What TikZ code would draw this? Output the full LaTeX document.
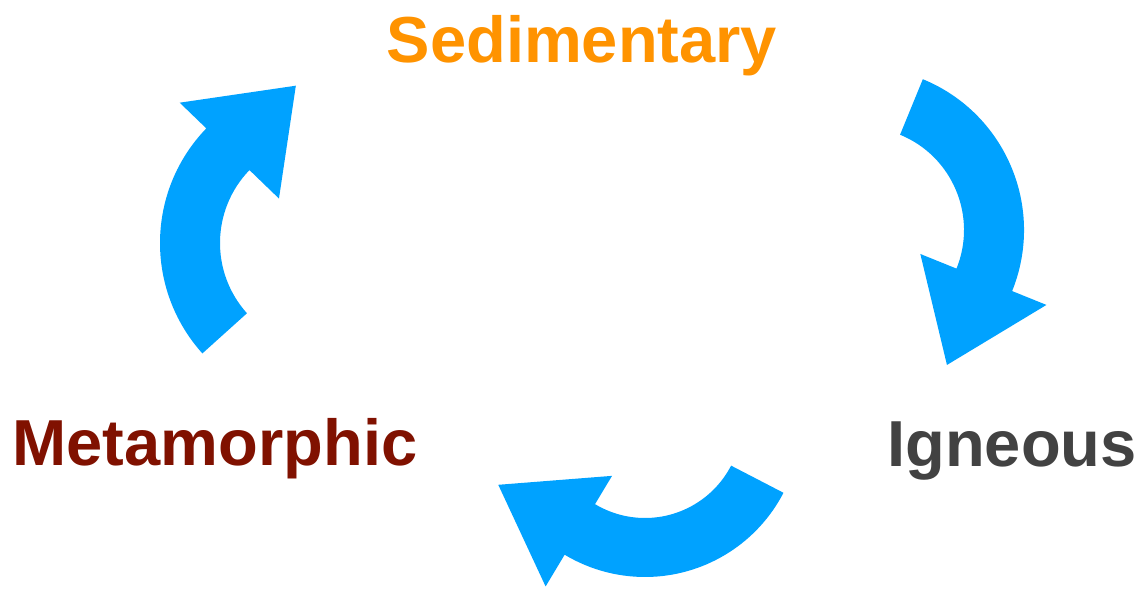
\documentclass[tikz,border=0pt]{standalone}
\usepackage{fontspec}
\setmainfont{Liberation Sans}
\usepackage{xcolor}
\usepackage{tikz}
\usetikzlibrary{calc}
\definecolor{CicloAzul}  {RGB}{0,  162, 255}
\definecolor{Naranja}    {RGB}{255,147,  0}
\definecolor{Granate}    {RGB}{128, 17,  0}
\definecolor{GrisOscuro} {RGB}{66,  66, 66}

\begin{document}
\begin{tikzpicture}[
      roca/.style  ={font=\fontsize{18.5}{20}\selectfont\bfseries,anchor=base,inner sep=0pt},
      flecha/.style={fill=CicloAzul}]
      \fill[white] (0,0) rectangle (11.42,5.88);
      \useasboundingbox (0,0) rectangle (11.42,5.88);
      \node[roca,text=Naranja]    (sed) at (5.82,5.26){Sedimentary};
      \node[roca,text=Granate]    (met) at (2.15,1.23){Metamorphic};
      \node[roca,text=GrisOscuro] (ign) at (10.12,1.22){Igneous};
      % centro x/y, angulo cola, angulo base de punta, radio ext., radio int.
      \foreach \cx/\cy/\ta/\ha/\ro/\ri in
        {8.61/3.58/67.7/-22/1.63/1.03, 6.45/1.67/-27.4/-121/1.56/0.97, 3.25/3.45/222/136/1.65/1.05}
        \fill[flecha,shift={(\cx,\cy)}]
          (\ta:\ro) arc[start angle=\ta,end angle=\ha,radius=\ro]
          -- (\ha:\ro+0.37) -- (\ha-35.5:1.60) -- (\ha:0.64) -- (\ha:\ri)
          arc[start angle=\ha,end angle=\ta,radius=\ri] -- cycle;
    \end{tikzpicture}
\end{document}
